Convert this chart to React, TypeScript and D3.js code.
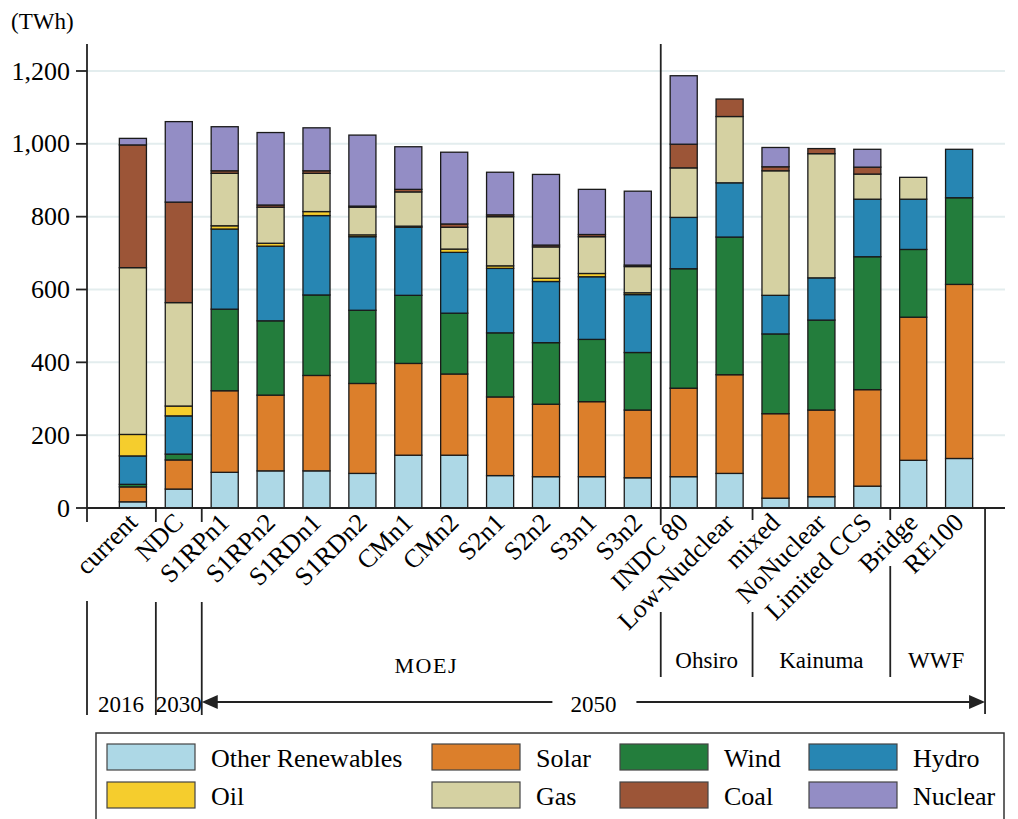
import React from "react";
import * as d3 from "d3";

const categories = [
  "current", "NDC", "S1RPn1", "S1RPn2", "S1RDn1", "S1RDn2", "CMn1", "CMn2",
  "S2n1", "S2n2", "S3n1", "S3n2", "INDC 80", "Low-Nudclear", "mixed",
  "NoNuclear", "Limited CCS", "Bridge", "RE100",
];

const otherRenewables = [17, 52, 98, 102, 102, 95, 145, 145, 89, 86, 86, 83, 86, 95, 27, 31, 60, 131, 136];
const solar = [41, 80, 224, 208, 262, 247, 252, 223, 216, 199, 206, 186, 243, 271, 232, 238, 265, 393, 478];
const wind = [7, 16, 224, 204, 221, 201, 187, 167, 176, 169, 171, 158, 328, 378, 219, 247, 365, 186, 238];
const hydro = [78, 105, 220, 205, 218, 202, 187, 167, 177, 168, 172, 159, 141, 149, 106, 116, 158, 138, 133];
const oil = [59, 27, 9, 8, 11, 5, 3, 9, 7, 9, 9, 5, 0, 0, 0, 0, 0, 0, 0];
const gas = [458, 284, 144, 99, 105, 76, 94, 60, 135, 86, 101, 72, 136, 182, 342, 341, 69, 60, 0];
const coal = [337, 276, 7, 6, 7, 3, 7, 9, 5, 5, 6, 4, 65, 48, 11, 14, 19, 0, 0];
const nuclear = [18, 221, 121, 199, 118, 195, 117, 197, 117, 194, 124, 203, 188, 0, 53, 0, 49, 0, 0];

const seriesNames = ["Other Renewables", "Solar", "Wind", "Hydro", "Oil", "Gas", "Coal", "Nuclear"];
const seriesValues = [otherRenewables, solar, wind, hydro, oil, gas, coal, nuclear];
const colors = ["#add8e6", "#dc7f2b", "#237d3c", "#2786b3", "#f5cd2d", "#d5d1a2", "#9c5537", "#938dc5"];

const yTicks = [0, 200, 400, 600, 800, 1000, 1200];

// bottom annotation groups (first and last scenario of each)
const sources = [
  { label: "MOEJ", from: "S1RPn1", to: "S3n2" },
  { label: "Ohsiro", from: "INDC 80", to: "Low-Nudclear" },
  { label: "Kainuma", from: "mixed", to: "Limited CCS" },
  { label: "WWF", from: "Bridge", to: "RE100" },
];
const years = [
  { label: "2016", from: "current", to: "current" },
  { label: "2030", from: "NDC", to: "NDC" },
  { label: "2050", from: "S1RPn1", to: "RE100" },
];

const FONT = "'Liberation Serif', 'Times New Roman', serif";

export default function App() {
  const W = 1018;
  const H = 819;
  const left = 87;
  const right = 1005;
  const top = 44;
  const bottom = 508;

  const x = d3
    .scaleBand()
    .domain(categories)
    .range([left, right])
    .paddingInner(0.41)
    .paddingOuter(0.705);
  const bw = x.bandwidth();
  const gap = x.step() - bw;
  const edgeL = (c: string) => (x(c) as number) - gap / 2;
  const edgeR = (c: string) => (x(c) as number) + bw + gap / 2;

  const y = d3.scaleLinear().domain([0, 1200]).range([bottom, 71]);

  const rows = categories.map((c, i) => {
    const r: any = { cat: c };
    seriesNames.forEach((s, j) => (r[s] = seriesValues[j][i]));
    return r;
  });
  const stacked = d3.stack().keys(seriesNames)(rows);

  const boundaries = [
    edgeL("NDC"),
    edgeL("S1RPn1"),
    edgeL("INDC 80"),
    edgeL("mixed"),
    edgeL("Bridge"),
  ];
  const rightEnd = edgeR("RE100") + 3;
  const divider = edgeL("INDC 80");

  const arrowY = 702;
  const arrowL = edgeL("S1RPn1");
  const y2050 = (arrowL + rightEnd) / 2;

  const legendCols = [107, 432, 620, 809];
  const legendRows = [744, 782];

  return (
    <svg width={W} height={H} style={{ position: "absolute", left: 0, top: 0, background: "#fff" }} fontFamily={FONT}>
      <text x={11} y={29} fontSize={23}>(TWh)</text>

      {/* grid */}
      {yTicks.filter((t) => t > 0).map((t) => (
        <line key={t} x1={left} x2={right} y1={y(t)} y2={y(t)} stroke="#e3edee" strokeWidth={2} />
      ))}

      {/* bars */}
      {stacked.map((layer, j) => (
        <g key={layer.key} fill={colors[j]}>
          {layer.map((d, i) =>
            d[1] - d[0] > 0 ? (
              <rect
                key={i}
                x={x(categories[i])}
                y={y(d[1])}
                width={bw}
                height={y(d[0]) - y(d[1])}
                stroke="#1a1a1a"
                strokeWidth={1.3}
              />
            ) : null
          )}
        </g>
      ))}

      {/* axes */}
      <line x1={left} x2={left} y1={top} y2={bottom} stroke="#222" strokeWidth={1.8} />
      <line x1={left} x2={right} y1={bottom} y2={bottom} stroke="#222" strokeWidth={1.8} />
      {yTicks.map((t) => (
        <g key={t}>
          <line x1={left - 11} x2={left} y1={y(t)} y2={y(t)} stroke="#222" strokeWidth={1.8} />
          <text x={left - 17} y={y(t)} dy="0.33em" textAnchor="end" fontSize={26}>
            {d3.format(",")(t)}
          </text>
        </g>
      ))}
      <line x1={divider} x2={divider} y1={top} y2={525} stroke="#222" strokeWidth={1.8} />

      {/* category labels */}
      {categories.map((c) => (
        <text
          key={c}
          transform={`translate(${(x(c) as number) + bw / 2 + 6},${bottom + 16}) rotate(-45)`}
          textAnchor="end"
          fontSize={26}
        >
          {c}
        </text>
      ))}

      {/* boundary ticks and lower annotation lines */}
      <line x1={left} x2={left} y1={bottom} y2={522} stroke="#222" strokeWidth={1.8} />
      <line x1={left} x2={left} y1={601} y2={715} stroke="#222" strokeWidth={1.8} />
      {boundaries.slice(0, 2).map((b, i) => (
        <g key={"a" + i}>
          <line x1={b} x2={b} y1={bottom} y2={522} stroke="#222" strokeWidth={1.8} />
          <line x1={b} x2={b} y1={602} y2={715} stroke="#222" strokeWidth={1.8} />
        </g>
      ))}
      {boundaries.slice(3).map((b, i) => (
        <line key={"t" + i} x1={b} x2={b} y1={bottom} y2={520} stroke="#222" strokeWidth={1.8} />
      ))}
      <line x1={boundaries[2]} x2={boundaries[2]} y1={612} y2={677} stroke="#222" strokeWidth={1.8} />
      <line x1={boundaries[3]} x2={boundaries[3]} y1={612} y2={677} stroke="#222" strokeWidth={1.8} />
      <line x1={boundaries[4]} x2={boundaries[4]} y1={566} y2={677} stroke="#222" strokeWidth={1.8} />
      <line x1={rightEnd} x2={rightEnd} y1={bottom} y2={714} stroke="#222" strokeWidth={1.8} />

      {/* source labels */}
      {sources.map((s) => {
        const cx = (edgeL(s.from) + edgeR(s.to)) / 2;
        const isMoej = s.label === "MOEJ";
        return (
          <text
            key={s.label}
            x={isMoej ? cx - 5 : cx}
            y={isMoej ? 673 : 668}
            textAnchor="middle"
            fontSize={isMoej ? 22 : 23}
            letterSpacing={isMoej ? 1.5 : 0}
          >
            {s.label}
          </text>
        );
      })}

      {/* years */}
      {years.slice(0, 2).map((yr) => (
        <text
          key={yr.label}
          x={(edgeL(yr.from) + edgeR(yr.to)) / 2 + (yr.label === "2016" ? -12 : 0)}
          y={712}
          textAnchor="middle"
          fontSize={23}
        >
          {yr.label}
        </text>
      ))}
      <line x1={arrowL + 14} x2={y2050 - 41} y1={arrowY} y2={arrowY} stroke="#222" strokeWidth={1.8} />
      <line x1={y2050 + 43} x2={rightEnd - 14} y1={arrowY} y2={arrowY} stroke="#222" strokeWidth={1.8} />
      <path d={`M${arrowL},${arrowY} l16,-7 l0,14 z`} fill="#222" />
      <path d={`M${rightEnd},${arrowY} l-16,-7 l0,14 z`} fill="#222" />
      <text x={y2050} y={712} textAnchor="middle" fontSize={23}>
        {years[2].label}
      </text>

      {/* legend */}
      <rect x={96} y={733} width={908} height={90} fill="none" stroke="#333" strokeWidth={1.5} />
      {seriesNames.map((s, j) => {
        const col = j % 4;
        const row = Math.floor(j / 4);
        const lx = legendCols[col];
        const ly = legendRows[row];
        return (
          <g key={s}>
            <rect x={lx} y={ly} width={88} height={26} fill={colors[j]} stroke="#444" strokeWidth={1.2} />
            <text x={lx + 104} y={ly + 23} fontSize={26}>
              {s}
            </text>
          </g>
        );
      })}
    </svg>
  );
}
